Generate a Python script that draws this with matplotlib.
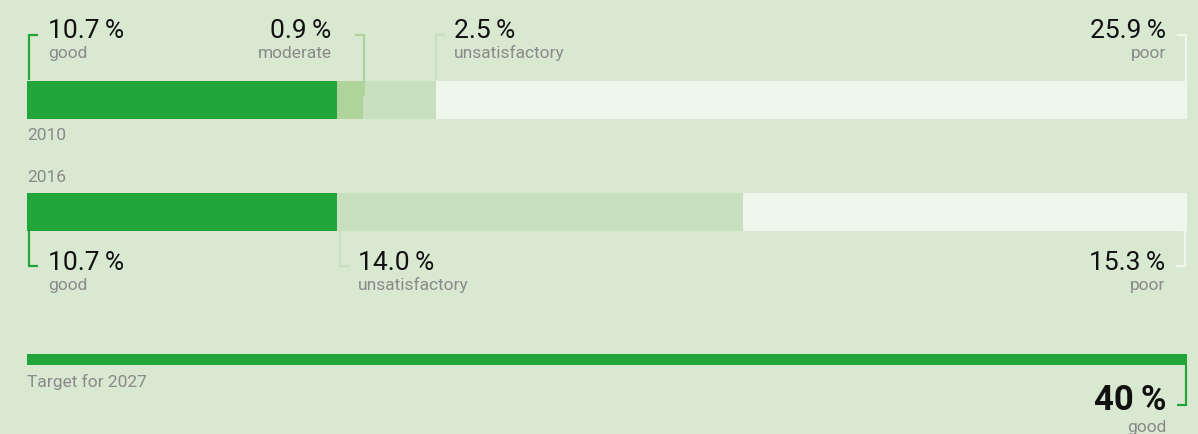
import matplotlib
matplotlib.use("Agg")
import matplotlib.pyplot as plt

# Données (% des masses d'eau)
cats_2010 = ["good", "moderate", "unsatisfactory", "poor"]
vals_2010 = [10.7, 0.9, 2.5, 25.9]
cats_2016 = ["good", "unsatisfactory", "poor"]
vals_2016 = [10.7, 14.0, 15.3]
target_val = 40
target_label = "good"

colors = {"good": "#22a63a", "moderate": "#aed39b", "unsatisfactory": "#c8e0bf", "poor": "#eff7ec"}
bg = "#d9e8d0"
grey = "#8a8a8a"

plt.rcParams['font.family'] = ['Roboto', 'DejaVu Sans']

fig = plt.figure(figsize=(11.98, 4.35), dpi=100, facecolor=bg)
ax = fig.add_axes([27 / 1198, 0, 1160 / 1198, 1])
ax.set_xlim(0, 40)
ax.set_ylim(435, 0)
ax.axis("off")

px = 40 / 1160  # une unité pixel en x
tick = 9 * px


def fmt(v):
    return f"{v:.1f}\u2009%"


def bracket(x, y0, y1, side, color, tick_at):
    ax.plot([x, x], [y0, y1], color=color, lw=1.6, solid_capstyle="butt", clip_on=False)
    ax.plot([x, x + side * tick], [tick_at, tick_at], color=color, lw=1.6, solid_capstyle="butt", clip_on=False)


def label(x, ynum, ylab, num, name, ha):
    ax.text(x, ynum, num, fontsize=19, color="#111111", ha=ha, va="baseline")
    ax.text(x, ylab, name, fontsize=12.5, color=grey, ha=ha, va="baseline")


# 2010
left = 0
for c, v in zip(cats_2010, vals_2010):
    ax.barh(100.5, v, left=left, height=38, color=colors[c], linewidth=0)
    left += v
edges = [0]
for v in vals_2010:
    edges.append(edges[-1] + v)

bracket(edges[0] + 1.5 * px, 35, 81, 1, colors["good"], 36)
label(edges[0] + 21 * px, 38, 58, fmt(vals_2010[0]), cats_2010[0], "left")
bracket(edges[2] + 1 * px, 35, 97, -1, colors["moderate"], 36)
label(edges[2] - 32 * px, 38, 58, fmt(vals_2010[1]), cats_2010[1], "right")
bracket(edges[3] + 0.5 * px, 35, 81, 1, colors["unsatisfactory"], 36)
label(edges[3] + 18 * px, 38, 58, fmt(vals_2010[2]), cats_2010[2], "left")
bracket(edges[4] - 1 * px, 35, 119, -1, colors["poor"], 36)
label(edges[4] - 21 * px, 38, 58, fmt(vals_2010[3]), cats_2010[3], "right")
ax.text(0, 136, "2010", fontsize=12.5, color=grey, ha="left", va="center")

# 2016
ax.text(0, 178, "2016", fontsize=12.5, color=grey, ha="left", va="center")
left = 0
for c, v in zip(cats_2016, vals_2016):
    ax.barh(212.5, v, left=left, height=38, color=colors[c], linewidth=0)
    left += v
edges = [0]
for v in vals_2016:
    edges.append(edges[-1] + v)

bracket(edges[0] + 1.5 * px, 231, 268, 1, colors["good"], 267)
label(edges[0] + 21 * px, 270, 290, fmt(vals_2016[0]), cats_2016[0], "left")
bracket(edges[1] + 2.5 * px, 231, 268, 1, colors["unsatisfactory"], 267)
label(edges[1] + 21 * px, 270, 290, fmt(vals_2016[1]), cats_2016[1], "left")
bracket(edges[3] - 2 * px, 231, 268, -1, colors["poor"], 267)
label(edges[3] - 22 * px, 270, 290, fmt(vals_2016[2]), cats_2016[2], "right")

# Objectif 2027
ax.barh(360.5, target_val, left=0, height=11, color=colors["good"], linewidth=0)
ax.text(0, 382, "Target for 2027", fontsize=12.5, color=grey, ha="left", va="center")
bracket(target_val - 1 * px, 366, 407, -1, colors["good"], 406)
ax.text(target_val - 20 * px, 410, f"{target_val}\u2009%", fontsize=25, fontweight="bold",
        color="#111111", ha="right", va="baseline")
ax.text(target_val - 21 * px, 432, target_label, fontsize=12.5, color=grey, ha="right", va="baseline")

fig.savefig("out.png", dpi=100, facecolor=bg)
